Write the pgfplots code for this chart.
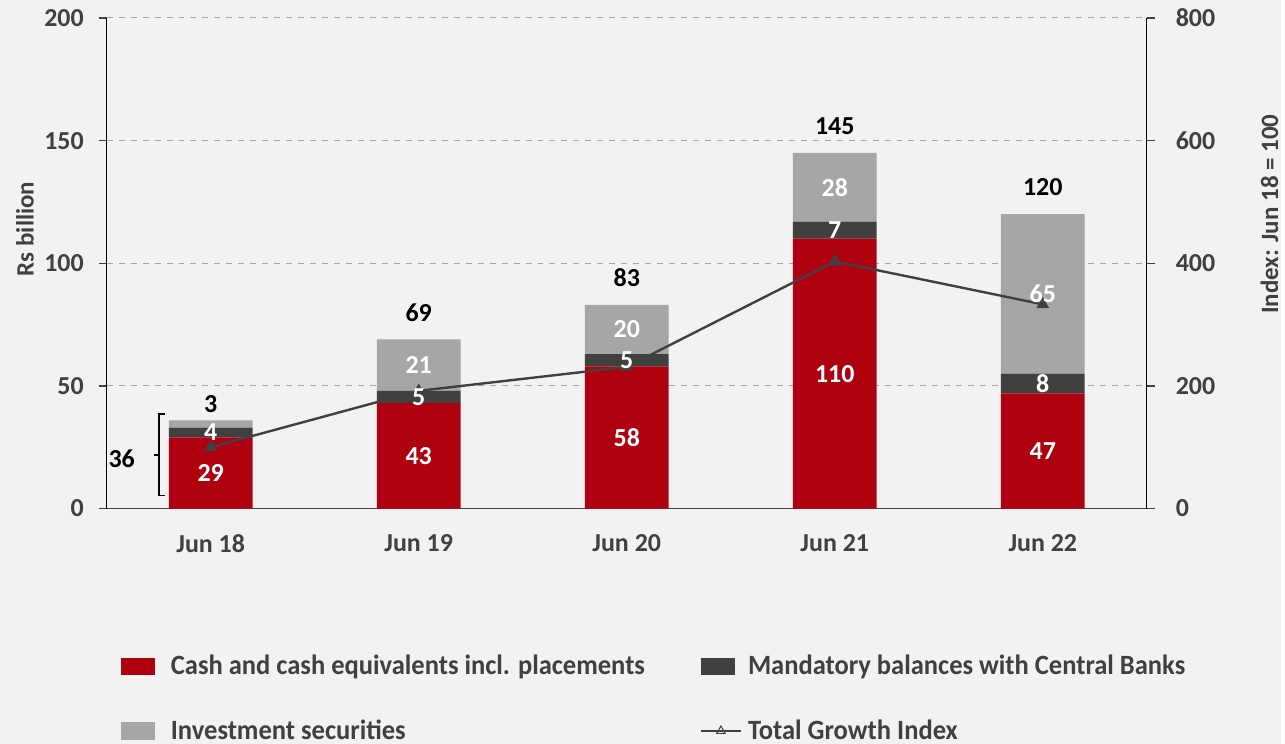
\documentclass[border=0pt]{standalone}
\usepackage{pgfplots}
\pgfplotsset{compat=1.18}
\usepackage{fontspec}
\setmainfont{Carlito}
\newfontfamily\legfont[FakeStretch=0.95]{Carlito}
\definecolor{cred}{HTML}{AE000F}
\definecolor{cdark}{HTML}{404040}
\definecolor{clight}{HTML}{A6A6A6}
\definecolor{cbg}{HTML}{F2F2F2}
\definecolor{cgrid}{HTML}{A6A6A6}
\definecolor{ctext}{HTML}{404040}
\newcommand{\tfont}{\fontsize{13}{15}\selectfont\bfseries}
\pgfplotsset{
  common/.style={
    at={(53.5pt,118pt)}, anchor=south west,
    scale only axis, width=521.5pt, height=246pt,
    xmin=-0.5, xmax=4.5,
    /pgf/number format/assume math mode=true,
    ticklabel style={font=\tfont, text=ctext},
  },
  lineleg/.style={legend image code/.code={\draw[sharp plot,mark repeat=2,mark phase=2,##1] plot coordinates {(0pt,0pt) (10pt,0pt) (20pt,0pt)};}},
  barleg/.style={legend image code/.code={\fill[#1] (0pt,-4.5pt) rectangle (17pt,4.5pt);}},
  barlegwide/.style={legend image code/.code={\fill[#1] (0pt,-4.5pt) rectangle (17pt,4.5pt); \path (22pt,0pt);}},
}
\begin{document}
\begin{tikzpicture}
\fill[cbg] (0,0) rectangle (642.5pt,373pt);
% bars
\begin{axis}[common,
  ymin=0, ymax=200,
  ybar stacked, bar width=42pt,
  axis x line*=bottom, axis y line*=left,
  x axis line style={cdark, line width=0.8pt},
  y axis line style={black, line width=0.6pt},
  ytick={0,50,100,150,200},
  yticklabel style={xshift=-4pt},
  tick align=outside, major tick length=4pt,
  ytick style={cdark, line width=0.6pt},
  ymajorgrids, grid style={cgrid, dashed, line width=0.5pt},
  xtick={0,1,2,3,4},
  xticklabels={Jun 18,Jun 19,Jun 20,Jun 21,Jun 22},
  xtick style={draw=none},
  xticklabel style={yshift=-5.5pt},
  extra x ticks={-0.5,0.5,1.5,2.5,3.5,4.5},
  extra x tick labels={},
  extra x tick style={grid=none, tick style={draw=cdark, line width=0.6pt}, major tick length=4pt},
  ylabel={Rs billion},
  every axis y label/.style={at={(axis description cs:-0.0786,0.57)}, rotate=90, anchor=center, font=\fontsize{12.5}{14}\selectfont\bfseries, text=ctext},
  legend columns=2,
  legend cell align=left,
  legend style={at={(axis description cs:0.0134,-0.298)}, anchor=north west,
    draw=none, fill=none, inner sep=0pt, row sep=21pt,
    nodes={inner sep=0pt},
    font=\legfont\fontsize{14}{16}\selectfont\bfseries, text=ctext,
    /tikz/every odd column/.append style={column sep=3pt},
    /tikz/every even column/.append style={column sep=27.5pt}},
]
\addplot[fill=cred, draw=none, barlegwide=cred]
  coordinates {(0,29) (1,43) (2,58) (3,110) (4,47)};
\addlegendentry{Cash and cash equivalents incl. placements}
\addplot[fill=cdark, draw=none, barleg=cdark]
  coordinates {(0,4) (1,5) (2,5) (3,7) (4,8)};
\addlegendentry{Mandatory balances with Central Banks}
\addplot[fill=clight, draw=none, barlegwide=clight]
  coordinates {(0,3) (1,21) (2,20) (3,28) (4,65)};
\addlegendentry{Investment securities}
\addlegendimage{cdark, line width=1.2pt, mark=triangle, mark size=2.5pt, mark options={fill=white, line width=0.5pt}, lineleg}
\addlegendentry{Total Growth Index}
\end{axis}
% index line
\begin{axis}[common,
  ymin=0, ymax=800,
  axis x line=none, axis y line*=right,
  y axis line style={black, line width=0.6pt},
  ytick={0,200,400,600,800},
  yticklabel style={xshift=7pt},
  tick align=outside, major tick length=4pt,
  ytick style={cdark, line width=0.6pt},
  ylabel={Index: Jun 18 = 100},
  every axis y label/.style={at={(axis description cs:1.118,0.60)}, rotate=90, anchor=center, font=\fontsize{12.5}{14}\selectfont\bfseries, text=ctext},
]
\addplot[cdark, line width=1.2pt, mark=triangle*, mark size=2.5pt, mark options={fill=cdark}]
  coordinates {(0,100) (1,192) (2,231) (3,403) (4,333)};
\end{axis}
% labels
\begin{axis}[common, ymin=0, ymax=200, hide axis]
\addplot[only marks, mark=none, nodes near coords, point meta=explicit symbolic,
  every node near coord/.style={anchor=center, text=white, font=\tfont}]
  coordinates {(0,14.5)[29] (0,31)[4]
    (1,21.5)[43] (1,45.5)[5] (1,58.5)[21]
    (2,29)[58] (2,60.5)[5] (2,73)[20]
    (3,55)[110] (3,113.5)[7] (3,131)[28]
    (4,23.5)[47] (4,51)[8] (4,87.5)[65]};
\addplot[only marks, mark=none, nodes near coords, point meta=explicit symbolic,
  every node near coord/.style={anchor=center, text=black, font=\tfont}]
  coordinates {(0,42.5)[3] (1,80)[69] (2,94)[83] (3,156)[145] (4,131)[120]};
\draw[black, line width=0.9pt] (axis cs:-0.22,38.6) -- (axis cs:-0.25,38.6) -- (axis cs:-0.25,5.3) -- (axis cs:-0.22,5.3);
\draw[black, line width=0.9pt] (axis cs:-0.25,21.9) -- (axis cs:-0.275,21.9);
\node[font=\tfont, text=black] at (axis cs:-0.428,20.5) {36};
\end{axis}
\end{tikzpicture}
\end{document}
